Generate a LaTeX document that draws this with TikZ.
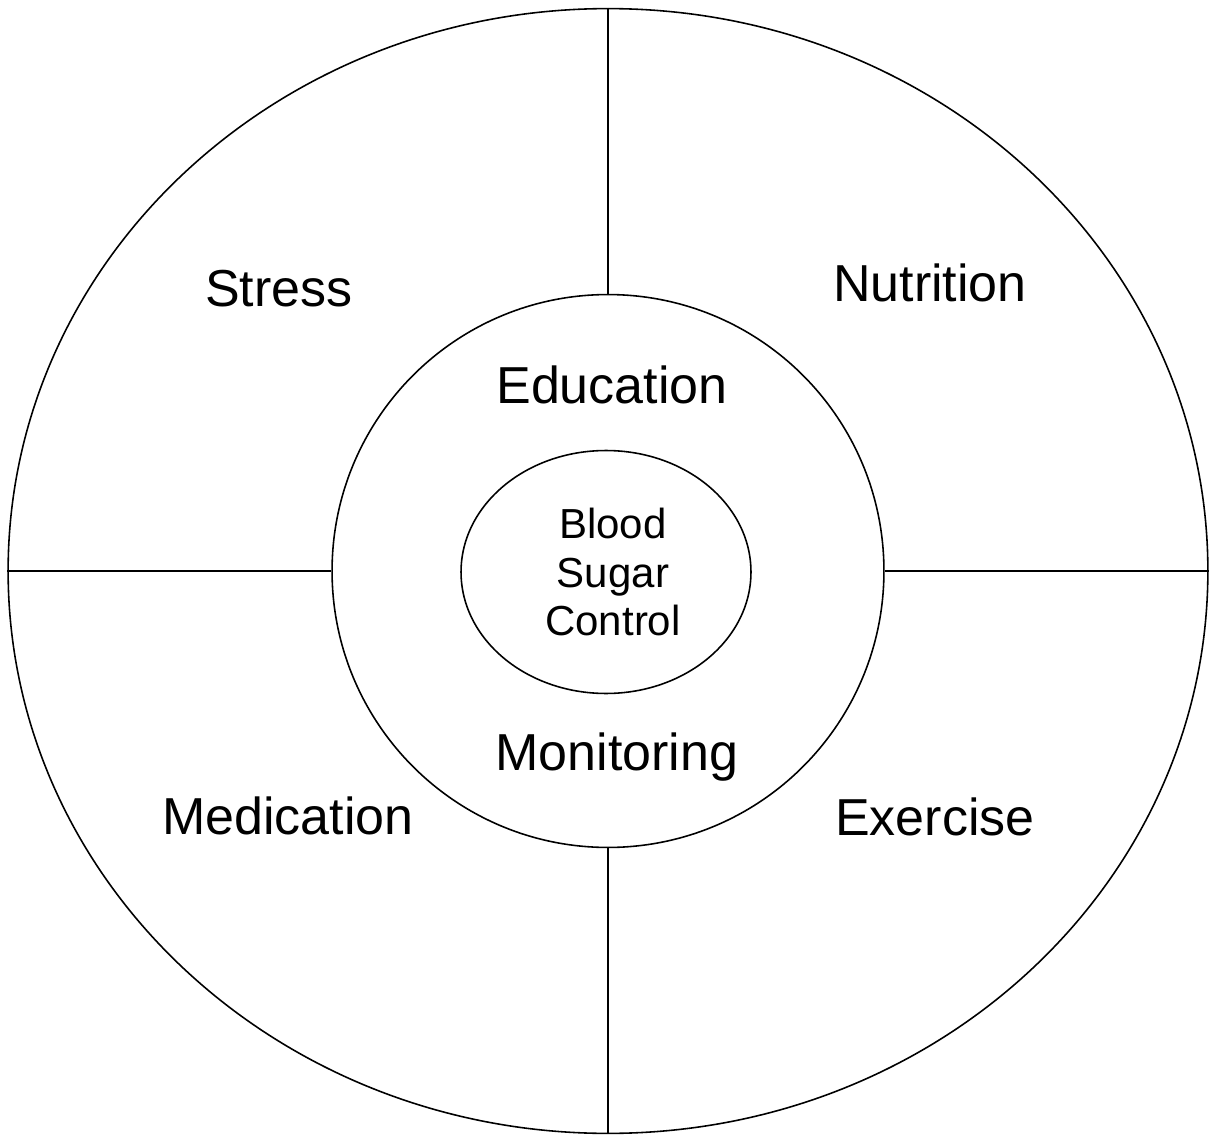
\documentclass[tikz,border=0pt]{standalone}
\usepackage{fontspec}
\setmainfont{Liberation Sans}
\usetikzlibrary{shapes.geometric}

\begin{document}
\begin{tikzpicture}[x=0.02cm, y=-0.02cm, line width=0.9pt,
		ring/.style={draw, ellipse, inner sep=0pt},
		area/.style={font=\fontsize{29.6}{35}\selectfont, anchor=base, inner sep=0pt}]
		\useasboundingbox (0,0) rectangle (1211,1135);
		
		\node[ring, minimum width=24cm, minimum height=22.5cm] (outer) at (608,571) {};
		\node[ring, minimum width=11.04cm, minimum height=11.06cm] (middle) at (608,571) {};
		\node[ring, minimum width=5.8cm, minimum height=4.86cm] (core) at (606,572) {};
		\node[align=center, font=\fontsize{23.9}{27.5}\selectfont] (goal) at (613,572) {Blood\\Sugar\\Control};
		
		\draw (outer.north) -- (middle.north);
		\draw (outer.south) -- (middle.south);
		\draw (outer.west) -- (middle.west);
		\draw (outer.east) -- (middle.east);
		
		\node[area] (stress) at (279,307) {Stress};
		\node[area] (nutrition) at (930,302) {Nutrition};
		\node[area] (education) at (612,403) {Education};
		\node[area] (monitoring) at (617,770) {Monitoring};
		\node[area] (medication) at (288,834) {Medication};
		\node[area] (exercise) at (935,835) {Exercise};
	\end{tikzpicture}
\end{document}
